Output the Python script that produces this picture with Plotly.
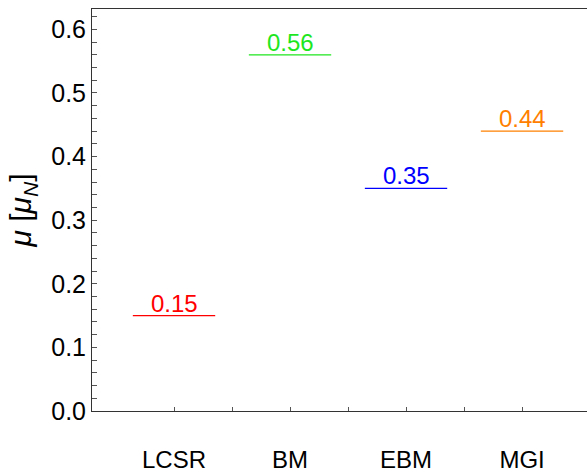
import plotly.graph_objects as go

categories = ["LCSR", "BM", "EBM", "MGI"]
values = [0.15, 0.56, 0.35, 0.44]
colors = ["#ff0000", "#1ee61e", "#0000ff", "#ff8000"]
positions = [1, 2, 3, 4]
minor_positions = [1.5, 2.5, 3.5]
y_ticks = [0.0, 0.1, 0.2, 0.3, 0.4, 0.5, 0.6]
half_width = 0.355

FONT = "Liberation Sans, Arial"

fig = go.Figure()
for p, v, c in zip(positions, values, colors):
    fig.add_trace(go.Scatter(x=[p - half_width, p + half_width], y=[v, v], mode="lines",
                             line=dict(color=c, width=1.2), showlegend=False, hoverinfo="skip"))
    fig.add_annotation(x=p, y=v, text=f"{v:.2f}", showarrow=False, yanchor="bottom",
                       yshift=-3, font=dict(color=c, size=24, family=FONT))

fig.update_layout(
    width=587, height=474,
    margin=dict(l=92, r=0, t=9, b=63),
    plot_bgcolor="white", paper_bgcolor="white",
    font=dict(family=FONT, size=24, color="black"),
    xaxis=dict(range=[0.293, 4.56], tickvals=positions, ticktext=categories,
               ticks="inside", ticklen=4, tickcolor="#555", showline=True, linecolor="#333",
               linewidth=1, mirror=True, showgrid=False, zeroline=False,
               ticklabelstandoff=27, automargin=False,
               minor=dict(tickmode="array", tickvals=minor_positions, ticks="inside",
                          ticklen=4, tickcolor="#555")),
    yaxis=dict(range=[0, 0.632], tickvals=y_ticks, ticktext=[f"{t:.1f}" for t in y_ticks],
               ticks="inside", ticklen=5, tickcolor="#555", showline=True, linecolor="#333",
               linewidth=1, showgrid=False, zeroline=False, automargin=False,
               tickfont=dict(size=25),
               title=dict(text="<i>μ</i> [<i>μ</i><sub><i>N</i></sub>]", standoff=10,
                          font=dict(size=30)),
               minor=dict(dtick=0.02, tick0=0, ticks="inside", ticklen=5, tickcolor="#555")),
)
fig.write_html("out.html")
